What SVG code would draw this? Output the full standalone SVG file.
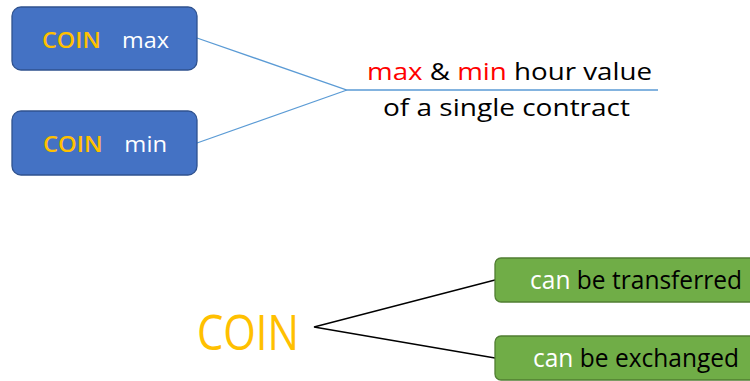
<svg xmlns="http://www.w3.org/2000/svg" width="750" height="381" viewBox="0 0 750 381">
<style>
text{font-family:"Open Sans","Noto Sans",sans-serif}
.blue{fill:#4472C4;stroke:#2F528F;stroke-width:1.3}
.green{fill:#70AD47;stroke:#507E32;stroke-width:1.3}
.coin{fill:#FFC000}
.w{fill:#FFFFFF}
.k{fill:#000000}
.r{fill:#FF0000}
</style>
<rect width="750" height="381" fill="#FFFFFF"/>
<g id="connectors" fill="none">
<polyline points="197,38 347,90 658,90" stroke="#5B9BD5" stroke-width="1.3"/>
<line x1="197" y1="143" x2="347" y2="90" stroke="#5B9BD5" stroke-width="1.3"/>
<polyline points="495,280 314,327 495,358" stroke="#000" stroke-width="1.3"/>
</g>
<g id="node-coin-max">
<rect class="blue" x="12" y="7" width="185" height="63" rx="9"/>
<text x="42" y="48" font-size="22" textLength="127" lengthAdjust="spacingAndGlyphs"><tspan class="coin" font-weight="600">COIN</tspan><tspan class="w" dx="20">max</tspan></text>
</g>
<g id="node-coin-min">
<rect class="blue" x="12" y="111" width="185" height="64" rx="9"/>
<text x="43" y="152" font-size="22" textLength="124" lengthAdjust="spacingAndGlyphs"><tspan class="coin" font-weight="600">COIN</tspan><tspan class="w" dx="20">min</tspan></text>
</g>
<g id="label-hour">
<text x="367" y="80" font-size="24" textLength="285" lengthAdjust="spacingAndGlyphs"><tspan class="r">max</tspan><tspan class="k"> &amp; </tspan><tspan class="r">min</tspan><tspan class="k"> hour value</tspan></text>
<text x="383" y="116" font-size="24" class="k" textLength="247" lengthAdjust="spacingAndGlyphs">of a single contract</text>
</g>
<g id="node-coin">
<text x="197" y="350" font-size="49" class="coin" textLength="102" lengthAdjust="spacingAndGlyphs">COIN</text>
</g>
<g id="node-transferred">
<rect class="green" x="495" y="258" width="262" height="44" rx="6"/>
<text x="530" y="289" font-size="26" textLength="212" lengthAdjust="spacingAndGlyphs"><tspan class="w">can</tspan><tspan class="k"> be transferred</tspan></text>
</g>
<g id="node-exchanged">
<rect class="green" x="495" y="336" width="262" height="44" rx="6"/>
<text x="533" y="367" font-size="26" textLength="206" lengthAdjust="spacingAndGlyphs"><tspan class="w">can</tspan><tspan class="k"> be exchanged</tspan></text>
</g>
</svg>
